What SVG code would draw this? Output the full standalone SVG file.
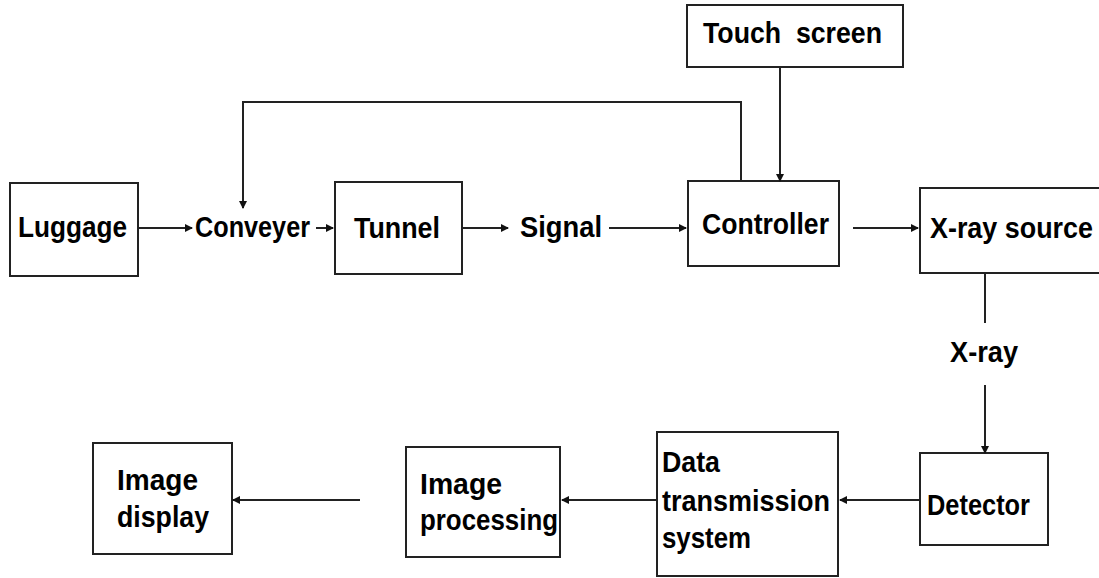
<svg xmlns="http://www.w3.org/2000/svg" width="1099" height="578" viewBox="0 0 1099 578">
  <style>
    .box { fill: #fff; stroke: #222; stroke-width: 2; }
    .lbl { font-family: "Liberation Sans", Arial, sans-serif; font-weight: bold; font-size: 29px; fill: #000; }
    .wire { fill: none; stroke: #222; stroke-width: 2; }
  </style>
  <defs>
    <marker id="head" markerWidth="8" markerHeight="8" refX="7" refY="4" orient="auto" markerUnits="userSpaceOnUse">
      <path d="M0,0 L8,4 L0,8 z" fill="#111"/>
    </marker>
  </defs>
  <rect width="1099" height="578" fill="#fff"/>

  <g id="luggage">
    <rect class="box" x="10" y="183" width="128" height="93"/>
    <text class="lbl" x="18" y="237" textLength="109" lengthAdjust="spacingAndGlyphs">Luggage</text>
  </g>
  <g id="conveyer">
    <text class="lbl" x="195" y="237" textLength="115" lengthAdjust="spacingAndGlyphs">Conveyer</text>
  </g>
  <g id="tunnel">
    <rect class="box" x="335" y="182" width="127" height="92"/>
    <text class="lbl" x="354" y="238" textLength="86" lengthAdjust="spacingAndGlyphs">Tunnel</text>
  </g>
  <g id="signal">
    <text class="lbl" x="520" y="237" textLength="82" lengthAdjust="spacingAndGlyphs">Signal</text>
  </g>
  <g id="touch-screen">
    <rect class="box" x="687" y="5" width="216" height="62"/>
    <text class="lbl" x="703" y="43" xml:space="preserve" textLength="179" lengthAdjust="spacingAndGlyphs">Touch  screen</text>
  </g>
  <g id="controller">
    <rect class="box" x="688" y="181" width="151" height="85"/>
    <text class="lbl" x="702" y="234" textLength="127" lengthAdjust="spacingAndGlyphs">Controller</text>
  </g>
  <g id="xray-source">
    <rect class="box" x="920" y="188" width="185" height="85"/>
    <text class="lbl" x="930" y="238" textLength="163" lengthAdjust="spacingAndGlyphs">X-ray source</text>
  </g>
  <g id="xray">
    <text class="lbl" x="950" y="362" textLength="68" lengthAdjust="spacingAndGlyphs">X-ray</text>
  </g>
  <g id="detector">
    <rect class="box" x="920" y="453" width="128" height="92"/>
    <text class="lbl" x="927" y="515" textLength="103" lengthAdjust="spacingAndGlyphs">Detector</text>
  </g>
  <g id="data-transmission">
    <rect class="box" x="657" y="432" width="181" height="144"/>
    <text class="lbl" x="662" y="472" textLength="58" lengthAdjust="spacingAndGlyphs">Data</text>
    <text class="lbl" x="662" y="511" textLength="168" lengthAdjust="spacingAndGlyphs">transmission</text>
    <text class="lbl" x="662" y="548" textLength="89" lengthAdjust="spacingAndGlyphs">system</text>
  </g>
  <g id="image-processing">
    <rect class="box" x="406" y="447" width="154" height="110"/>
    <text class="lbl" x="420" y="494" textLength="82" lengthAdjust="spacingAndGlyphs">Image</text>
    <text class="lbl" x="420" y="530" textLength="138" lengthAdjust="spacingAndGlyphs">processing</text>
  </g>
  <g id="image-display">
    <rect class="box" x="93" y="443" width="139" height="111"/>
    <text class="lbl" x="117" y="490" textLength="81" lengthAdjust="spacingAndGlyphs">Image</text>
    <text class="lbl" x="117" y="527" textLength="92" lengthAdjust="spacingAndGlyphs">display</text>
  </g>

  <g id="connectors">
    <path class="wire" d="M138 228 H192" marker-end="url(#head)"/>
    <path class="wire" d="M316 228 H333" marker-end="url(#head)"/>
    <path class="wire" d="M462 228 H508" marker-end="url(#head)"/>
    <path class="wire" d="M609 228 H686" marker-end="url(#head)"/>
    <path class="wire" d="M853 228 H918" marker-end="url(#head)"/>
    <path class="wire" d="M780 67 V181" marker-end="url(#head)"/>
    <path class="wire" d="M741 181 V102 H243 V208" marker-end="url(#head)"/>
    <path class="wire" d="M985 273 V323"/>
    <path class="wire" d="M985 385 V453" marker-end="url(#head)"/>
    <path class="wire" d="M920 500 H840" marker-end="url(#head)"/>
    <path class="wire" d="M657 500 H562" marker-end="url(#head)"/>
    <path class="wire" d="M360 500 H233" marker-end="url(#head)"/>
  </g>
</svg>
